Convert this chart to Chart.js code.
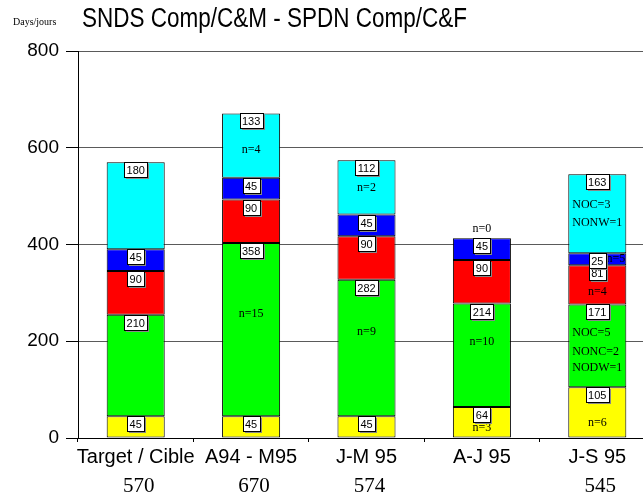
<!DOCTYPE html>
<html>
<head>
<meta charset="utf-8">
<script src="https://cdn.jsdelivr.net/npm/chart.js@4"></script>
<style>
  html, body { margin: 0; padding: 0; background: #fff; overflow: hidden; }
  #wrap { width: 643px; height: 499px; overflow: hidden; }
</style>
</head>
<body>
<div id="wrap"><canvas id="chart" width="670" height="499"></canvas></div>
<script>
const categories = ["Target / Cible", "A94 - M95", "J-M 95", "A-J 95", "J-S 95"];
const totals = ["570", "670", "574", "", "545"];

const yellowVals = [45, 45, 45, 64, 105];
const greenVals = [210, 358, 282, 214, 171];
const redVals = [90, 90, 90, 90, 81];
const blueVals = [45, 45, 45, 45, 25];
const cyanVals = [180, 133, 112, 0, 163];

const yTicks = [0, 200, 400, 600, 800];

// notes inside the bars: text, bar index, value (y position), alignment
const noteText = ["n=4", "n=15", "n=2", "n=9", "n=0", "n=10", "n=3",
  "NOC=3", "NONW=1", "n=5", "n=4", "NOC=5", "NONC=2", "NODW=1", "n=6"];
const noteBar = [1, 1, 2, 2, 3, 3, 3, 4, 4, 4, 4, 4, 4, 4, 4];
const noteValue = [595, 256, 517, 219, 432, 198, 21, 482, 445, 370, 302, 217, 178, 145, 31];
const noteAlign = ["center", "center", "center", "center", "center", "center", "center",
  "left", "left", "right", "center", "left", "left", "left", "center"];

const SANS = "'Liberation Sans', Arial, sans-serif";
const SERIF = "'Liberation Serif', 'Times New Roman', serif";

const extras = {
  id: "extras",
  afterDatasetsDraw(chart) {
    const ctx = chart.ctx;
    const y = chart.scales.y;
    const base = chart.getDatasetMeta(0).data;
    ctx.save();

    // notes
    ctx.fillStyle = "#000";
    ctx.font = "12px " + SERIF;
    ctx.textBaseline = "middle";
    noteText.forEach((t, k) => {
      const bar = base[noteBar[k]];
      const half = bar.width / 2;
      let x = bar.x;
      if (noteAlign[k] === "left") x = bar.x - half + 4;
      if (noteAlign[k] === "right") x = bar.x + half - 1;
      ctx.textAlign = noteAlign[k];
      ctx.fillText(t, x, y.getPixelForValue(noteValue[k]));
    });

    // value boxes at each segment top
    ctx.font = "11px " + SANS;
    ctx.textAlign = "center";
    chart.data.datasets.forEach((ds, di) => {
      const meta = chart.getDatasetMeta(di);
      meta.data.forEach((bar, i) => {
        const v = ds.data[i];
        if (!v) return;
        const label = String(v);
        const w = Math.round(ctx.measureText(label).width) + 5;
        const h = 15;
        const left = Math.round(bar.x - w / 2) + 0.5;
        const top = Math.round(bar.y) + 0.5;
        ctx.fillStyle = "#888";
        ctx.fillRect(left + 1.5, top + 1.5, w, h);
        ctx.fillStyle = "#fff";
        ctx.fillRect(left, top, w, h);
        ctx.strokeStyle = "#000";
        ctx.lineWidth = 1;
        ctx.strokeRect(left, top, w, h);
        ctx.fillStyle = "#000";
        ctx.fillText(label, bar.x, top + h / 2 + 0.5);
      });
    });

    // totals row under the category labels
    ctx.font = "21px " + SERIF;
    totals.forEach((t, i) => {
      if (t) ctx.fillText(t, base[i].x + 3, 486);
    });

    // titles
    ctx.textAlign = "left";
    ctx.font = "10px " + SERIF;
    ctx.fillText("Days/jours", 13, 22);
    ctx.font = "22.5px " + SANS;
    ctx.translate(82, 20);
    ctx.scale(1, 1.2);
    ctx.fillText("SNDS Comp/C&M - SPDN Comp/C&F", 0, 0);
    ctx.restore();
  }
};

function seg(label, data, color) {
  return {
    label, data,
    backgroundColor: color,
    borderColor: "#000",
    borderWidth: 1,
    borderSkipped: false,
    categoryPercentage: 1,
    barPercentage: 0.503
  };
}

new Chart(document.getElementById("chart"), {
  type: "bar",
  data: {
    labels: categories,
    datasets: [
      seg("yellow", yellowVals, "#ffff00"),
      seg("green", greenVals, "#00ff00"),
      seg("red", redVals, "#ff0000"),
      seg("blue", blueVals, "#0000ff"),
      seg("cyan", cyanVals, "#00ffff")
    ]
  },
  options: {
    responsive: false,
    animation: false,
    layout: { padding: { top: 51, right: 15, left: 0, bottom: 0 } },
    plugins: {
      legend: { display: false },
      tooltip: { enabled: false },
      title: { display: false }
    },
    scales: {
      x: {
        stacked: true,
        grid: { drawOnChartArea: false, drawTicks: true, tickLength: 4, color: "#000", offset: true },
        border: { color: "#000", width: 1 },
        ticks: { color: "#000", font: { family: SANS, size: 20 }, padding: 3, maxRotation: 0, autoSkip: false },
        afterFit(scale) { scale.height = 61; }
      },
      y: {
        stacked: true,
        min: 0,
        max: 800,
        afterBuildTicks(scale) { scale.ticks = yTicks.map(v => ({ value: v })); },
        grid: { color: "#5a5a5a", tickColor: "#000", tickLength: 12, lineWidth: 1 },
        border: { color: "#000", width: 1 },
        ticks: { color: "#000", font: { family: SANS, size: 19 }, padding: 7 },
        afterFit(scale) { scale.width = 78; }
      }
    }
  },
  plugins: [extras]
});
</script>
</body>
</html>
